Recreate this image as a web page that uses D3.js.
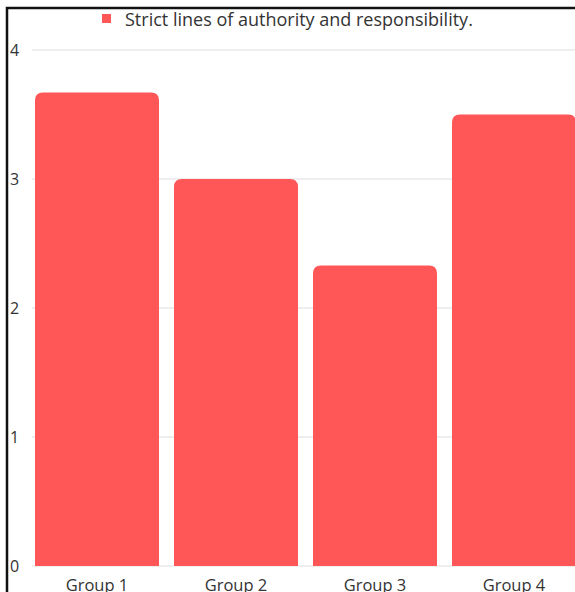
<!DOCTYPE html>
<html>
<head>
<meta charset="utf-8">
<script src="https://cdn.jsdelivr.net/npm/d3@7"></script>
<style>
  html, body { margin: 0; padding: 0; background: #fff; }
  svg { display: block; }
</style>
</head>
<body>
<svg id="chart" width="575" height="592"></svg>
<script>
const categories = ["Group 1", "Group 2", "Group 3", "Group 4"];
const values = [3.67, 3.0, 2.33, 3.5];
const yTicks = [0, 1, 2, 3, 4];
const seriesName = "Strict lines of authority and responsibility.";

const W = 575, H = 592;
const svg = d3.select("#chart");
const font = "'Open Sans', sans-serif";
const barColor = "#ff5757";

const x = d3.scaleBand().domain(categories).range([27.5, 583.5]).paddingInner(0.108).paddingOuter(0.054);
const y = d3.scaleLinear().domain([0, 4]).range([566, 50]);

// gridlines
svg.append("g").selectAll("line").data(yTicks).join("line")
  .attr("x1", 32).attr("x2", W)
  .attr("y1", d => y(d)).attr("y2", d => y(d))
  .attr("stroke", "#dedede").attr("stroke-width", 1);

// y tick labels
svg.append("g").selectAll("text").data(yTicks).join("text")
  .attr("x", 10).attr("y", d => y(d) + 5.5)
  .attr("font-family", font).attr("font-size", 16).attr("fill", "#333")
  .text(d => d);

// bars with rounded top corners
const r = 8;
svg.append("g").selectAll("path").data(categories).join("path")
  .attr("fill", barColor)
  .attr("d", (c, i) => {
    const x0 = x(c), w = x.bandwidth(), y0 = y(values[i]), yb = y(0);
    return `M${x0},${yb}V${y0 + r}Q${x0},${y0} ${x0 + r},${y0}H${x0 + w - r}Q${x0 + w},${y0} ${x0 + w},${y0 + r}V${yb}Z`;
  });

// x axis labels
svg.append("g").selectAll("text").data(categories).join("text")
  .attr("x", c => x(c) + x.bandwidth() / 2).attr("y", 591)
  .attr("text-anchor", "middle")
  .attr("font-family", font).attr("font-size", 16.5).attr("fill", "#333")
  .text(c => c);

// legend
svg.append("rect").attr("x", 102).attr("y", 14).attr("width", 9).attr("height", 9).attr("fill", barColor);
svg.append("text").attr("x", 125).attr("y", 25.5)
  .attr("font-family", font).attr("font-size", 18).attr("fill", "#333")
  .text(seriesName);

// frame border
svg.append("rect").attr("x", 7).attr("y", 8).attr("width", W + 20).attr("height", H + 20)
  .attr("fill", "none").attr("stroke", "#111").attr("stroke-width", 2.5);
</script>
</body>
</html>
